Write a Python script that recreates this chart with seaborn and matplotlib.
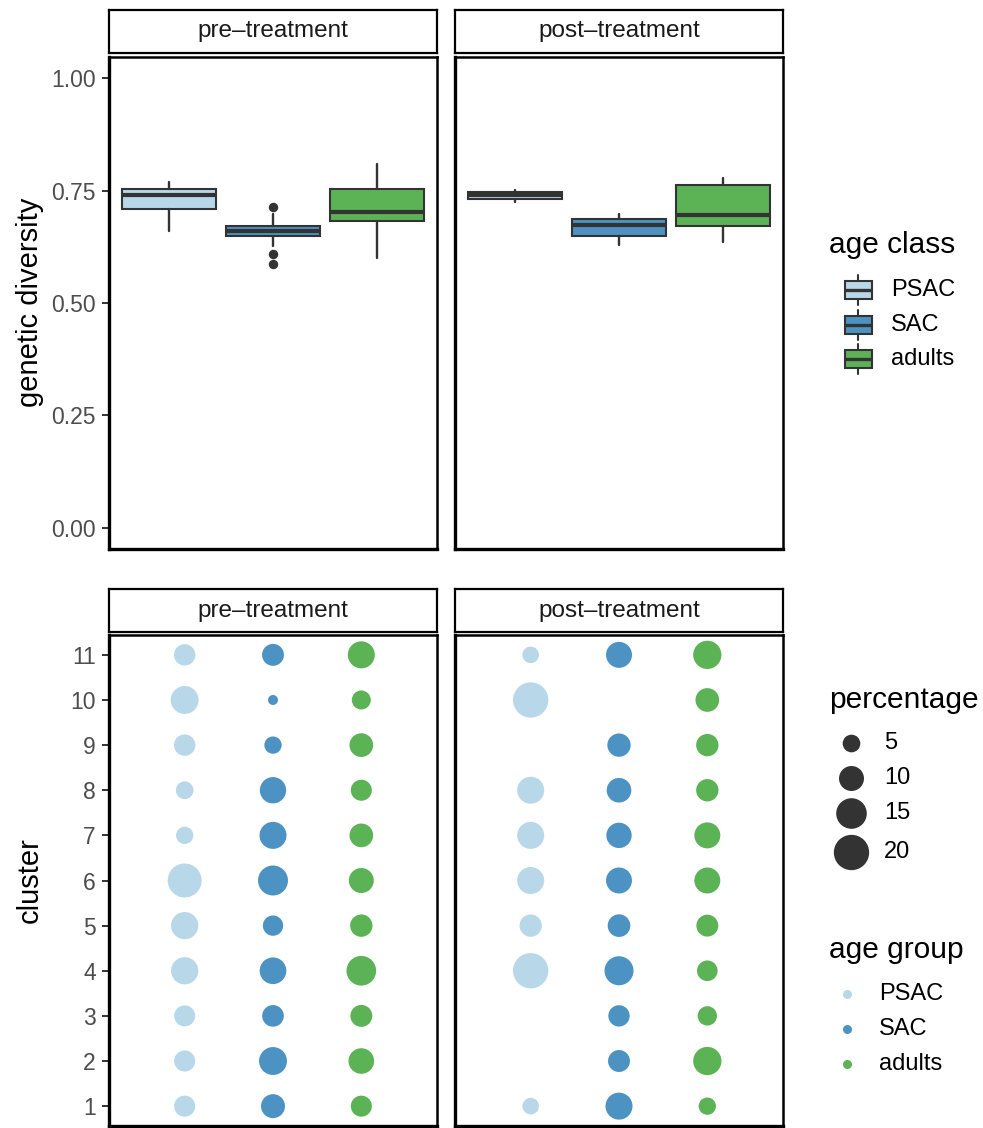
import numpy as np
import pandas as pd
import matplotlib
matplotlib.use("Agg")
import matplotlib.pyplot as plt
from matplotlib.patches import Rectangle
import seaborn as sns

# ---------------- data ----------------
groups = ["PSAC", "SAC", "adults"]
treatments = ["pre\u2013treatment", "post\u2013treatment"]
colors = ["#A6CEE3", "#1F78B4", "#33A02C"]

# genetic diversity box summaries (PSAC, SAC, adults)
pre_q1 = [0.708, 0.648, 0.682]
pre_med = [0.741, 0.660, 0.702]
pre_q3 = [0.753, 0.672, 0.753]
pre_lo = [0.661, 0.626, 0.599]
pre_hi = [0.769, 0.697, 0.808]
pre_out = [[], [0.713, 0.610, 0.586], []]

post_q1 = [0.731, 0.650, 0.672]
post_med = [0.740, 0.674, 0.696]
post_q3 = [0.747, 0.687, 0.762]
post_lo = [0.725, 0.630, 0.635]
post_hi = [0.752, 0.699, 0.777]
post_out = [[], [], []]

# cluster percentages, clusters 1..11 (None = absent)
clusters = list(range(1, 12))
pre_psac = [7.1, 7.1, 7.1, 11.9, 11.9, 18.5, 4.8, 5.0, 7.3, 12.5, 7.3]
pre_sac = [9.2, 12.5, 7.5, 11.4, 6.6, 14.4, 11.7, 11.1, 4.8, 1.6, 7.7]
pre_adults = [7.1, 10.5, 7.7, 14.1, 8.0, 10.0, 9.0, 7.1, 9.0, 5.8, 11.7]
post_psac = [4.4, None, None, 21.9, 8.0, 11.7, 11.7, 11.7, None, 21.9, 4.4]
post_sac = [11.7, 7.7, 7.3, 13.5, 8.2, 10.8, 10.3, 9.7, 8.7, None, 10.8]
post_adults = [4.8, 12.8, 6.0, 6.8, 7.7, 10.8, 10.8, 8.0, 8.0, 9.0, 12.8]

size_breaks = [5, 10, 15, 20]
div_ticks = [0.00, 0.25, 0.50, 0.75, 1.00]

# ---------------- style ----------------
sns.set_theme(style="white")
plt.rcParams["font.family"] = ["Liberation Sans", "DejaVu Sans"]

W, H = 983, 1128
fig = plt.figure(figsize=(W / 100, H / 100), dpi=100)


def fax(x0, y0, x1, y1):
    return fig.add_axes([x0 / W, 1 - y1 / H, (x1 - x0) / W, (y1 - y0) / H])


DARK = "#333333"
TICKC = "#4D4D4D"
ALPHA = 0.8
col_alpha = [matplotlib.colors.to_rgba(c, ALPHA) for c in colors]

panel_x = [(109, 437), (455, 783)]
top_y = (57, 549)
top_strip = (10, 53)
bot_y = (635, 1126)
bot_strip = (589, 632)


def style_panel(ax, left):
    for s in ax.spines.values():
        s.set_visible(True)
        s.set_color("black")
        s.set_linewidth(1.8)
    ax.spines["left"].set_linewidth(2.4)
    ax.spines["bottom"].set_linewidth(2.4)
    ax.set_xticks([])
    ax.set_xlabel("")
    ax.set_ylabel("")
    ax.set_facecolor("white")
    if left:
        ax.tick_params(axis="y", which="both", left=True, direction="out",
                       length=5, width=1.4, color=DARK, labelcolor=TICKC,
                       labelsize=16.5, pad=4.5)
    else:
        ax.tick_params(axis="y", left=False, labelleft=False)


def strip(x0, x1, y0, y1, label):
    sa = fax(x0, y0, x1, y1)
    sa.set_xticks([])
    sa.set_yticks([])
    sa.set_facecolor("white")
    for s in sa.spines.values():
        s.set_visible(True)
        s.set_color("black")
        s.set_linewidth(1.6)
    sa.text(0.5, 0.5, label, ha="center", va="center", fontsize=17.5,
            color="#1A1A1A", transform=sa.transAxes)


# ---------------- top: boxplots ----------------
box_sets = [
    (pre_q1, pre_med, pre_q3, pre_lo, pre_hi, pre_out),
    (post_q1, post_med, post_q3, post_lo, post_hi, post_out),
]
for i, (q1, med, q3, lo, hi, out) in enumerate(box_sets):
    x0, x1 = panel_x[i]
    ax = fax(x0, top_y[0], x1, top_y[1])
    stats = []
    for g in range(3):
        stats.append(dict(med=med[g], q1=q1[g], q3=q3[g], whislo=lo[g],
                          whishi=hi[g], fliers=np.array(out[g])))
    bp = ax.bxp(stats, positions=[0, 1, 2], widths=0.9, patch_artist=True,
                showcaps=False,
                boxprops=dict(edgecolor=DARK, linewidth=1.5),
                medianprops=dict(color=DARK, linewidth=3.0, solid_capstyle="butt"),
                whiskerprops=dict(color=DARK, linewidth=1.7),
                flierprops=dict(marker="o", markerfacecolor=DARK,
                                markeredgecolor=DARK, markersize=5.8))
    for patch, c in zip(bp["boxes"], col_alpha):
        patch.set_facecolor(c)
    ax.set_xlim(-0.577, 2.577)
    ax.set_ylim(-0.047, 1.047)
    ax.set_yticks(div_ticks)
    ax.set_yticklabels([f"{t:.2f}" for t in div_ticks])
    style_panel(ax, i == 0)
    strip(x0, x1, top_strip[0], top_strip[1], treatments[i])

# ---------------- bottom: cluster bubbles ----------------
series = [
    [pre_psac, pre_sac, pre_adults],
    [post_psac, post_sac, post_adults],
]
for i, grp_vals in enumerate(series):
    rows = []
    for g, vals in zip(groups, grp_vals):
        for c, v in zip(clusters, vals):
            if v is not None:
                rows.append({"age group": g, "cluster": c, "percentage": v})
    df = pd.DataFrame(rows)
    df["age group"] = pd.Categorical(df["age group"], categories=groups)
    df["xpos"] = df["age group"].cat.codes
    x0, x1 = panel_x[i]
    ax = fax(x0, bot_y[0], x1, bot_y[1])
    sns.scatterplot(data=df, x="xpos", y="cluster", hue="age group",
                    hue_order=groups, palette=colors, size="percentage",
                    sizes=(0, 647), size_norm=(0, 20), alpha=ALPHA,
                    linewidth=0, legend=False, ax=ax)
    ax.set_xlim(-0.857, 2.857)
    ax.set_ylim(0.56, 11.44)
    ax.set_yticks(clusters)
    ax.set_yticklabels([str(c) for c in clusters])
    style_panel(ax, i == 0)
    strip(x0, x1, bot_strip[0], bot_strip[1], treatments[i])

# ---------------- overlay: titles & legends ----------------
ov = fig.add_axes([0, 0, 1, 1], zorder=10)
ov.set_xlim(0, W)
ov.set_ylim(H, 0)
ov.axis("off")
ov.patch.set_alpha(0)

ov.text(30, 302, "genetic diversity", rotation=90, ha="center", va="center",
        fontsize=21, color="black")
ov.text(30, 880, "cluster", rotation=90, ha="center", va="center",
        fontsize=21, color="black")

# age class legend
ov.text(829, 245, "age class", ha="left", va="center", fontsize=21.5, color="black")
for yc, c in zip([290, 325, 359], col_alpha):
    ov.plot([858, 858], [yc - 15, yc + 15], color=DARK, lw=1.5, zorder=1)
    ov.add_patch(Rectangle((845, yc - 9), 27, 18, facecolor="white",
                           edgecolor="none", zorder=2))
    ov.add_patch(Rectangle((845, yc - 9), 27, 18, facecolor=c,
                           edgecolor=DARK, lw=1.5, zorder=3))
    ov.plot([845, 872], [yc, yc], color=DARK, lw=2.4, zorder=4,
            solid_capstyle="butt")
for yc, g in zip([290, 325, 359], groups):
    ov.text(891, yc, g, ha="left", va="center", fontsize=17, color="black")

# percentage legend
ov.text(829, 700, "percentage", ha="left", va="center", fontsize=21.5, color="black")
for yc, v in zip([743, 778, 813, 852], size_breaks):
    ov.scatter([851], [yc], s=647 * v / 20, color="black", alpha=ALPHA,
               linewidths=0)
    ov.text(884, yc, str(v), ha="left", va="center", fontsize=17, color="black")

# age group legend
ov.text(829, 950, "age group", ha="left", va="center", fontsize=21.5, color="black")
for yc, g, c in zip([994, 1029, 1064], groups, colors):
    ov.scatter([847], [yc], s=42, color=c, alpha=ALPHA, linewidths=0)
    ov.text(879, yc, g, ha="left", va="center", fontsize=17, color="black")

fig.savefig("out.png", dpi=100, facecolor="white")
